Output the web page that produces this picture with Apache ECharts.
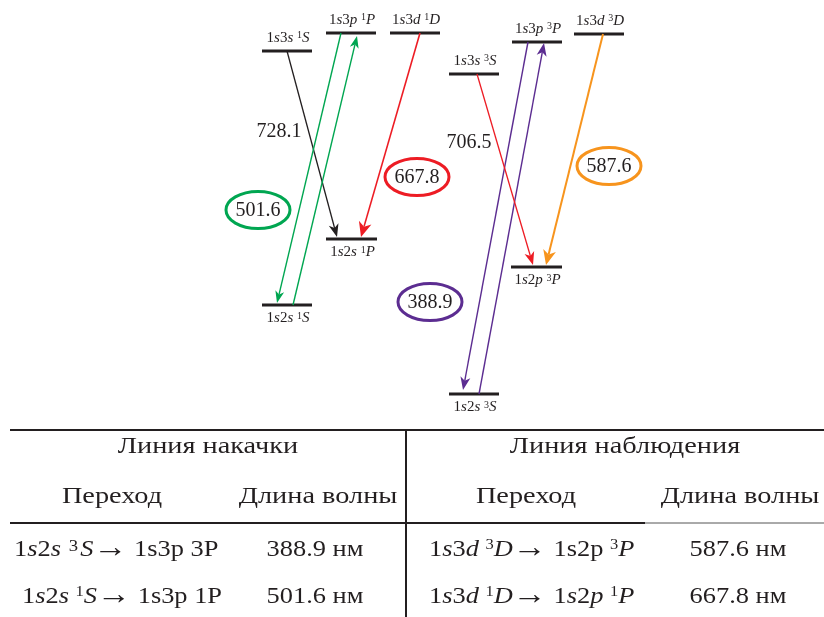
<!DOCTYPE html>
<html><head><meta charset="utf-8">
<script src="https://cdn.jsdelivr.net/npm/echarts@6/dist/echarts.min.js"></script>
<style>html,body{margin:0;padding:0;background:#fff}#c{width:824px;height:617px}</style>
</head><body><div id="c"></div>
<script>
// ---------- data ----------
// energy levels (diagram coordinates)
const levelLabels = [
  '1{i|s}3{i|s} {sup|1}{i|S}', '1{i|s}3{i|p} {sup|1}{i|P}', '1{i|s}3{i|d} {sup|1}{i|D}',
  '1{i|s}3{i|s} {sup|3}{i|S}', '1{i|s}3{i|p} {sup|3}{i|P}', '1{i|s}3{i|d} {sup|3}{i|D}',
  '1{i|s}2{i|s} {sup|1}{i|P}', '1{i|s}2{i|s} {sup|1}{i|S}', '1{i|s}2{i|p} {sup|3}{i|P}', '1{i|s}2{i|s} {sup|3}{i|S}'
];
const levelShell = [3, 3, 3, 3, 3, 3, 2, 2, 2, 2];
const levelStart = [262, 326, 390, 449, 512, 574, 326, 262, 511, 449];
const levelEnd   = [312, 376, 440, 499, 562, 624, 377, 312, 562, 499];
const levelY     = [51, 33, 33, 74, 42, 34, 239, 305, 267, 394];

// transitions (arrows)
const transWavelength = ['728.1', '667.8', '501.6', '501.6', '388.9', '388.9', '706.5', '587.6'];
const transFromX = [287, 420, 341, 293, 528, 479, 477, 603];
const transFromY = [51, 33, 33, 305, 42, 394, 74, 34];
const transToX   = [337, 361, 277, 357, 463, 544, 533, 546];
const transToY   = [237, 237, 303, 36, 390, 43, 265, 265];

// wavelength labels
const wlLabels  = ['728.1', '706.5', '667.8', '501.6', '388.9', '587.6'];
const wlX       = [279, 469, 417, 258, 430, 609];
const wlY       = [131, 142, 177, 210, 302, 166];
const wlCircled = [false, false, true, true, true, true];

// table
const tableGroups = ['Линия накачки', 'Линия наблюдения'];
const tableHeaders = ['Переход', 'Длина волны'];
const pumpTransitions = ['1{i|s}2{i|s} {bsup|3}{i|S}{ar|→} 1s3p 3P', '1{i|s}2{i|s} {sup|1}{i|S}{ar|→} 1s3p 1P'];
const pumpWavelengths = ['388.9 нм', '501.6 нм'];
const obsTransitions = ['1{i|s}3{i|d} {sup|3}{i|D}{ar|→} 1s2p {sup|3}{i|P}', '1{i|s}3{i|d} {sup|1}{i|D}{ar|→} 1{i|s}2{i|p} {sup|1}{i|P}'];
const obsWavelengths = ['587.6 нм', '667.8 нм'];

// ---------- styles ----------
const SERIF = '"Liberation Serif","Times New Roman",serif';
const INK = '#231f20';
const wlColor = { '728.1': INK, '667.8': '#ed1c24', '501.6': '#00a651', '388.9': '#5c2d91', '706.5': '#ed1c24', '587.6': '#f7941d' };
const wlLineWidth = { '728.1': 1.3, '667.8': 1.6, '501.6': 1.4, '388.9': 1.4, '706.5': 1.3, '587.6': 2 };
const wlHead = { '728.1': [13, 10], '667.8': [15, 13], '501.6': [12, 9], '388.9': [13, 10], '706.5': [13, 10], '587.6': [15, 13] };

function rich(size, sup) {
  return {
    n: { fontSize: size, fontFamily: SERIF, fill: INK, lineHeight: size },
    i: { fontSize: size, fontFamily: SERIF, fontStyle: 'italic', fill: INK, lineHeight: size },
    sup: { fontSize: sup, fontFamily: SERIF, fill: INK, verticalAlign: 'top', lineHeight: sup },
    bsup: { fontSize: sup + 2, fontFamily: SERIF, fill: INK, verticalAlign: 'top', lineHeight: sup + 2, padding: [0, 2, 0, 1] },
    ar: { fontSize: Math.round(size * 1.3), fontFamily: SERIF, fill: INK, lineHeight: size, padding: [0, 0, 2, 0] }
  };
}

const chart = echarts.init(document.getElementById('c'), null, { renderer: 'canvas' });

const levelData = levelY.map((y, k) => [levelStart[k], y, levelEnd[k]]);
const transData = transFromX.map((x, k) => [x, transFromY[k], transToX[k], transToY[k]]);
const wlData = wlX.map((x, k) => [x, wlY[k]]);

// table graphic
const TBL = 24, SUP = 15;
const tRich = rich(TBL, SUP);
function tText(x, y, text, align, sx) {
  return { type: 'text', x: x, y: y, scaleX: sx || 1.1,
    style: { text: text, rich: tRich, fontSize: TBL, fontFamily: SERIF, fill: INK, align: align || 'center', verticalAlign: 'middle' } };
}
const HX = 1.18;
const graphics = [
  { type: 'line', shape: { x1: 10, y1: 430, x2: 824, y2: 430 }, style: { stroke: INK, lineWidth: 2 } },
  { type: 'line', shape: { x1: 10, y1: 523, x2: 645, y2: 523 }, style: { stroke: INK, lineWidth: 2 } },
  { type: 'line', shape: { x1: 645, y1: 523, x2: 824, y2: 523 }, style: { stroke: '#555', lineWidth: 1 } },
  { type: 'line', shape: { x1: 406, y1: 430, x2: 406, y2: 617 }, style: { stroke: INK, lineWidth: 2 } },
  tText(208, 447, tableGroups[0], 'center', HX),
  tText(625, 447, tableGroups[1], 'center', HX),
  tText(112, 497, tableHeaders[0], 'center', HX),
  tText(318, 497, tableHeaders[1], 'center', HX),
  tText(526, 497, tableHeaders[0], 'center', HX),
  tText(740, 497, tableHeaders[1], 'center', HX),
  tText(14, 550, pumpTransitions[0], 'left'),
  tText(22, 597, pumpTransitions[1], 'left'),
  tText(315, 550, pumpWavelengths[0]),
  tText(315, 597, pumpWavelengths[1]),
  tText(429, 550, obsTransitions[0], 'left'),
  tText(429, 597, obsTransitions[1], 'left'),
  tText(738, 550, obsWavelengths[0]),
  tText(738, 597, obsWavelengths[1])
];

chart.setOption({
  animation: false,
  backgroundColor: '#fff',
  grid: { left: 0, right: 0, top: 0, bottom: 0 },
  xAxis: { type: 'value', min: 0, max: 824, show: false },
  yAxis: { type: 'value', min: 0, max: 617, inverse: true, show: false },
  graphic: graphics,
  series: [
    {
      type: 'custom', clip: false, silent: true,
      data: levelData,
      renderItem: function (params, api) {
        const k = params.dataIndex;
        const a = api.coord([api.value(0), api.value(1)]);
        const b = api.coord([api.value(2), api.value(1)]);
        const up = levelShell[k] === 3;
        return { type: 'group', children: [
          { type: 'line', shape: { x1: a[0], y1: a[1], x2: b[0], y2: b[1] }, style: { stroke: INK, lineWidth: 3 } },
          { type: 'text', x: (a[0] + b[0]) / 2 + 1, y: a[1] + (up ? -13 : 13.5),
            style: { text: levelLabels[k], rich: rich(15, 10), fontSize: 15, fontFamily: SERIF, fill: INK, align: 'center', verticalAlign: 'middle' } }
        ] };
      }
    },
    {
      type: 'custom', clip: false, silent: true,
      data: transData,
      renderItem: function (params, api) {
        const k = params.dataIndex;
        const w = transWavelength[k];
        const p = api.coord([api.value(0), api.value(1)]);
        const t = api.coord([api.value(2), api.value(3)]);
        const dx = t[0] - p[0], dy = t[1] - p[1];
        const len = Math.sqrt(dx * dx + dy * dy);
        const ux = dx / len, uy = dy / len, nx = -uy, ny = ux;
        const L = wlHead[w][0], W = wlHead[w][1] / 2;
        const bx = t[0] - L * ux, by = t[1] - L * uy;
        const mx = t[0] - 0.72 * L * ux, my = t[1] - 0.72 * L * uy;
        const col = wlColor[w];
        return { type: 'group', children: [
          { type: 'line', shape: { x1: p[0], y1: p[1], x2: mx, y2: my }, style: { stroke: col, lineWidth: wlLineWidth[w] } },
          { type: 'polygon', shape: { points: [[t[0], t[1]], [bx + W * nx, by + W * ny], [mx, my], [bx - W * nx, by - W * ny]] }, style: { fill: col } }
        ] };
      }
    },
    {
      type: 'custom', clip: false, silent: true,
      data: wlData,
      renderItem: function (params, api) {
        const k = params.dataIndex;
        const c = api.coord([api.value(0), api.value(1)]);
        const lab = wlLabels[k];
        const children = [];
        if (wlCircled[k]) {
          children.push({ type: 'ellipse', shape: { cx: c[0], cy: c[1], rx: 32, ry: 18.5 }, style: { fill: 'none', stroke: wlColor[lab], lineWidth: 3 } });
        }
        children.push({ type: 'text', x: c[0], y: c[1] + 1, style: { text: lab, fontSize: 20, fontFamily: SERIF, fill: INK, align: 'center', verticalAlign: 'middle' } });
        return { type: 'group', children: children };
      }
    }
  ]
});
</script></body></html>
